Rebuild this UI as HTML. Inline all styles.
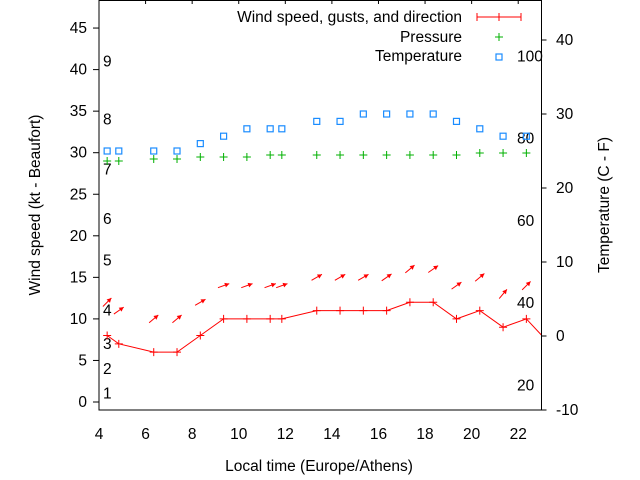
<!DOCTYPE html>
<html><head><meta charset="utf-8"><style>
body{margin:0;background:#fff}
svg{display:block;font-family:"Liberation Sans",sans-serif}
</style></head><body>
<svg id="chart" width="640" height="480" viewBox="0 0 640 480" xmlns="http://www.w3.org/2000/svg">
<g id="g"></g>
</svg>
<script>
const times=[4.35,4.85,6.35,7.35,8.35,9.35,10.35,11.35,11.85,13.35,14.35,15.35,16.35,17.35,18.35,19.35,20.35,21.35,22.35,23.35];
const windSpeed=[8,7,6,6,8,10,10,10,10,11,11,11,11,12,12,10,11,9,10,7];
const gusts=[12,11,10,10,12,14,14,14,14,15,15,15,15,16,16,14,15,13,14,null];
const windDir=[225,235,230,230,240,250,250,250,250,240,240,240,235,230,235,235,230,220,225,null];
const pressure=[1010,1010,1011,1011,1012,1012,1012,1013,1013,1013,1013,1013,1013,1013,1013,1013,1014,1014,1014,null];
const temperature=[25,25,25,25,26,27,28,28,28,29,29,30,30,30,30,29,28,27,27,null];
const xTicks=[4,6,8,10,12,14,16,18,20,22];
const yTicks=[0,5,10,15,20,25,30,35,40,45];
const y2Ticks=[-10,0,10,20,30,40];
const beaufortKt=[1,4,7,11,17,22,28,34,41];
const fahrenheit=[20,40,60,80,100];

const FS=15.5;
const L=99,R=541.5,T=0,B=410;
const X=v=>L+(v-4)*(R-L)/19;
const Y=v=>402-v*8.31;
const Y2=v=>336-v*7.4;
const P=v=>155-(v-1013)*2;
const g=document.getElementById('g');
const NS='http://www.w3.org/2000/svg';
function el(tag,attrs,parent){const e=document.createElementNS(NS,tag);for(const k in attrs)e.setAttribute(k,attrs[k]);(parent||g).appendChild(e);return e;}
function txt(x,y,s,anchor,extra){const t=el('text',Object.assign({x:x,y:y,'font-size':FS,fill:'#000','text-anchor':anchor||'middle'},extra||{}));t.textContent=s;return t;}

const defs=el('defs',{});const cp=el('clipPath',{id:'clip'},defs);el('rect',{x:L,y:T,width:R-L,height:B-T},cp);

xTicks.forEach(v=>{
 const l=el('line',{x1:X(v),x2:X(v),y1:0,y2:4,stroke:'#000'});
 
 
 const t=txt(X(v),439,String(v));
 
 
});
yTicks.forEach(v=>{
 const l=el('line',{x1:L-6,x2:L,y1:Y(v),y2:Y(v),stroke:'#000'});
 
 
 const t=txt(87,Y(v)+5,String(v),'end');
 
 
});
y2Ticks.forEach(v=>{
 const l=el('line',{x1:R,x2:R+5,y1:Y2(v),y2:Y2(v),stroke:'#000'});
 
 
 const t=txt(556,Y2(v)+5,String(v),'start');
 
 
});
beaufortKt.forEach((kt,i)=>{
 const t=txt(103,Y(kt)+5,String(i+1),'start');
 
 
});
fahrenheit.forEach(f=>{
 const t=txt(517,Y2((f-32)*5/9)+5,String(f),'start');
 
 
});

const plot=el('g',{'clip-path':'url(#clip)'});


const pts=times.map((t,i)=>X(t)+','+Y(windSpeed[i])).join(' ');
const wl=el('polyline',{points:pts,fill:'none',stroke:'#f00','stroke-width':1},plot);


times.forEach((t,i)=>{
 const x=X(t),y=Y(windSpeed[i]);
 const m=el('path',{d:`M${x-4},${y}h8M${x},${y-4}v8`,stroke:'#f00'},plot);
 
 
 if(gusts[i]!=null){
  const gx=X(t),gy=Y(gusts[i]);
  const a=(windDir[i]+180)*Math.PI/180;
  const dx=Math.sin(a)*6,dy=-Math.cos(a)*6;
  const x2=gx+dx,y2=gy+dy;
  const ang=Math.atan2(dy,dx);
  const h1x=x2-5*Math.cos(ang-0.5),h1y=y2-5*Math.sin(ang-0.5);
  const h2x=x2-5*Math.cos(ang+0.5),h2y=y2-5*Math.sin(ang+0.5);
  const ar=el('g',{},plot);
  
  
  el('line',{x1:gx-dx,y1:gy-dy,x2:x2,y2:y2,stroke:'#f00'},ar);
  el('polygon',{points:`${x2},${y2} ${h1x},${h1y} ${h2x},${h2y}`,fill:'#f00'},ar);
 }
 if(pressure[i]!=null){
  const px=X(t),py=P(pressure[i]);
  const pm=el('path',{d:`M${px-4},${py}h8M${px},${py-4}v8`,stroke:'#00b000'},plot);
  
  
 }
 if(temperature[i]!=null){
  const tx=X(t),ty=Y2(temperature[i]);
  const sq=el('rect',{x:tx-3,y:ty-3,width:6,height:6,fill:'none',stroke:'#1a8cff','stroke-width':1.2},plot);
  
  
 }
});

const bd=el('rect',{x:L,y:T+0.5,width:R-L,height:B-T-0.5,fill:'none',stroke:'#000'});



const lg=el('g',{});


let t1=txt(462,22,'Wind speed, gusts, and direction','end');lg.appendChild(t1);
el('path',{d:'M477,17h44M477,13v8M499,13v8M521,13v8',stroke:'#f00'},lg);
let t2=txt(462,42,'Pressure','end');lg.appendChild(t2);
el('path',{d:'M495,37h8M499,33v8',stroke:'#00b000'},lg);
let t3=txt(462,61,'Temperature','end');lg.appendChild(t3);
el('rect',{x:496,y:54,width:6,height:6,fill:'none',stroke:'#1a8cff','stroke-width':1.2},lg);

const xt=txt(319,471,'Local time (Europe/Athens)');
const yt=txt(0,0,'Wind speed (kt - Beaufort)','middle',{transform:'translate(40,205) rotate(-90)'});
const y2t=txt(0,0,'Temperature (C - F)','middle',{transform:'translate(609,205) rotate(-90)'});
</script>
</body></html>
